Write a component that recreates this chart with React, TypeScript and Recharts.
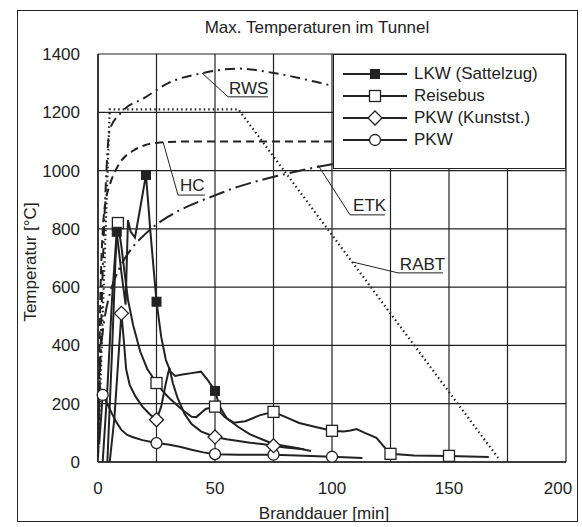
import React from 'react';
import {
  LineChart,
  Line,
  XAxis,
  YAxis,
  CartesianGrid,
  Legend,
  ReferenceLine,
  ReferenceDot,
} from 'recharts';

// Achsen
const xTicks = [0, 25, 50, 75, 100, 125, 150, 175, 200];
const yTicks = [0, 200, 400, 600, 800, 1000, 1200, 1400];

// Brandversuche: Zeit [min] / Temperatur [°C] / Zeitpunkte mit Symbol
const lkwT = [2, 4, 6, 8, 10, 11.8, 12.8, 14, 15.8, 18, 20.5, 22.5, 25, 27, 29, 31, 33, 36, 40, 44, 47, 50, 52, 55, 60, 65, 70, 75, 80, 85, 91];
const lkwV = [0, 250, 560, 790, 650, 540, 830, 790, 770, 870, 985, 780, 550, 430, 350, 310, 295, 300, 305, 310, 280, 244, 190, 150, 120, 95, 78, 62, 55, 48, 38];
const lkwMarks = [8, 20.5, 25, 50];

const busT = [4, 6, 7.5, 8.5, 10, 11.5, 12.8, 15, 18, 21, 25, 28, 31, 36, 40, 42, 46, 50, 54, 58, 63, 69, 75, 80, 86, 93, 100, 105, 108, 110.5, 114, 119, 123, 125, 135, 150, 167];
const busV = [0, 380, 700, 820, 740, 640, 557, 470, 380, 320, 271, 240, 215, 179, 155, 154, 182, 190, 155, 135, 140, 160, 172, 155, 134, 120, 107, 105, 108, 113, 100, 83, 45, 28, 22, 21, 17];
const busMarks = [8.5, 25, 50, 75, 100, 125, 150];

const pkwKT = [5, 7, 8.5, 10, 11, 12, 13.5, 16, 19, 22, 25, 27, 29, 30.5, 32, 34, 37, 40, 44, 50, 55, 60, 65, 70, 75, 80, 88];
const pkwKV = [0, 150, 330, 510, 420, 320, 265, 225, 190, 165, 145, 190, 270, 323, 270, 220, 165, 130, 105, 86, 78, 72, 66, 62, 56, 50, 44];
const pkwKMarks = [10, 25, 50, 75];

const pkwT = [0.5, 2, 4, 6, 8, 10, 12.5, 15, 19, 25, 30, 35, 40, 45, 50, 60, 75, 85, 100, 113];
const pkwV = [60, 230, 200, 165, 135, 110, 93, 85, 75, 65, 60, 52, 42, 33, 27, 25, 25, 22, 18, 14];
const pkwMarks = [2, 25, 50, 75, 100];

// Brandkurven
const etkT = [0, 1, 2, 3, 5, 7.5, 10, 15, 20, 25, 30, 40, 50, 60, 70, 80, 90, 100, 120];
const etkV = [20, 349, 445, 502, 576, 635, 678, 739, 781, 815, 842, 883, 915, 945, 968, 988, 1006, 1022, 1049];

const hcT = [0, 1, 2, 3, 5, 7.5, 10, 15, 20, 25, 30, 40, 60, 90, 120];
const hcV = [20, 560, 790, 880, 950, 1000, 1034, 1068, 1087, 1095, 1098, 1100, 1100, 1100, 1100];

const rwsT = [0, 3, 5, 10, 20, 30, 45, 60, 75, 90, 100, 120];
const rwsV = [20, 890, 1140, 1200, 1250, 1300, 1335, 1350, 1335, 1310, 1290, 1210];

const rabtT = [0, 5, 60, 171];
const rabtV = [20, 1210, 1210, 14];

// Legende (Reihenfolge wie im Original)
const legendOrder = ['LKW (Sattelzug)', 'Reisebus', 'PKW (Kunstst.)', 'PKW'];
const legendKinds: Record<string, string> = {
  'LKW (Sattelzug)': 'filled',
  Reisebus: 'square',
  'PKW (Kunstst.)': 'diamond',
  PKW: 'circle',
};

// Beschriftungen der Brandkurven: Text, Anker, Knick, Ende der Unterstreichung
const callouts = [
  { text: 'RWS', from: [44.4, 1335], knee: [55.6, 1253], end: 72.6, at: [56, 1263] },
  { text: 'HC', from: [27.8, 1098], knee: [34.2, 916], end: 45.7, at: [35, 930] },
  { text: 'ETK', from: [94, 1019], knee: [107.7, 848], end: 122.6, at: [109, 861] },
  { text: 'RABT', from: [109, 686], knee: [128.2, 649], end: 147.4, at: [129, 659] },
];

const pts = (ts: number[], vs: number[]) => ts.map((t, i) => ({ t, v: vs[i] }));

const INK = '#222';

const Marker = ({ kind, cx, cy }: { kind: string; cx: number; cy: number }) => {
  if (kind === 'filled')
    return <rect x={cx - 4.5} y={cy - 4.5} width={9} height={9} fill={INK} stroke={INK} />;
  if (kind === 'square')
    return <rect x={cx - 5.5} y={cy - 5.5} width={11} height={11} fill="#fff" stroke={INK} strokeWidth={1.3} />;
  if (kind === 'diamond')
    return (
      <path
        d={`M${cx},${cy - 7}L${cx + 7},${cy}L${cx},${cy + 7}L${cx - 7},${cy}Z`}
        fill="#fff"
        stroke={INK}
        strokeWidth={1.3}
      />
    );
  return <circle cx={cx} cy={cy} r={5.5} fill="#fff" stroke={INK} strokeWidth={1.3} />;
};

const dotAt = (marks: number[], kind: string) => (props: any) => {
  const { cx, cy, payload, index } = props;
  if (!marks.includes(payload.t)) return <g key={`${kind}-${index}`} />;
  return (
    <g key={`${kind}-${index}`}>
      <Marker kind={kind} cx={cx} cy={cy} />
    </g>
  );
};

const renderLegend = (props: any) => {
  const names = (props.payload || []).map((p: any) => p.value);
  const items = legendOrder.filter((n) => names.includes(n));
  return (
    <div
      style={{
        width: '100%',
        height: '100%',
        boxSizing: 'border-box',
        background: '#fff',
        border: `1.5px solid ${INK}`,
        padding: '8px 0 0 9px',
      }}
    >
      {items.map((name) => (
        <div key={name} style={{ display: 'flex', alignItems: 'center', height: 22 }}>
          <svg width={66} height={20}>
            <line x1={0} y1={10} x2={64} y2={10} stroke={INK} strokeWidth={2} />
            <Marker kind={legendKinds[name]} cx={32} cy={10} />
          </svg>
          <span style={{ marginLeft: 5, fontSize: 17, color: INK, lineHeight: '20px' }}>{name}</span>
        </div>
      ))}
    </div>
  );
};

const XTick = (props: any) => {
  const { x, y, payload } = props;
  const v = payload.value;
  if (v % 50 !== 0) return <g />;
  return (
    <text x={v === 200 ? x - 8 : x} y={y} dy="0.71em" textAnchor="middle" fill={INK} fontSize={17}>
      {v}
    </text>
  );
};

const yTitle = (props: any) => {
  const vb = props.viewBox || { y: 54, height: 408 };
  const x = 30;
  const y = vb.y + vb.height / 2 + 4;
  return (
    <text x={x} y={y} transform={`rotate(-90 ${x} ${y})`} textAnchor="middle" dominantBaseline="central" fill={INK} fontSize={17}>
      Temperatur [°C]
    </text>
  );
};

const xTitle = () => (
  <text x={324} y={519} textAnchor="middle" fill={INK} fontSize={17}>
    Branddauer [min]
  </text>
);

export default function App() {
  return (
    <div
      style={{
        position: 'absolute',
        left: 0,
        top: 0,
        width: 582,
        height: 527,
        background: '#fff',
        fontFamily: '"Liberation Sans", Arial, sans-serif',
        color: INK,
      }}
    >
      <div
        style={{
          position: 'absolute',
          left: 17,
          top: 10,
          width: 561,
          height: 512,
          boxSizing: 'border-box',
          border: `1.5px solid ${INK}`,
        }}
      />
      <div
        style={{
          position: 'absolute',
          left: 17,
          width: 600,
          top: 18,
          textAlign: 'center',
          fontSize: 17,
          lineHeight: '20px',
        }}
      >
        Max. Temperaturen im Tunnel
      </div>
      <div style={{ position: 'absolute', left: 0, top: 0 }}>
        <LineChart width={582} height={527} margin={{ top: 54, right: 16, bottom: 35, left: 38 }}>
          <CartesianGrid stroke={INK} strokeWidth={1.2} />
          <XAxis
            type="number"
            dataKey="t"
            domain={[0, 200]}
            ticks={xTicks}
            interval={0}
            tickLine={false}
            tickSize={6}
            tickMargin={14}
            tick={<XTick />}
            axisLine={{ stroke: INK, strokeWidth: 1.5 }}
            height={30}
            label={xTitle}
            allowDuplicatedCategory={false}
          />
          <YAxis
            type="number"
            dataKey="v"
            domain={[0, 1400]}
            ticks={yTicks}
            interval={0}
            tickLine={false}
            tickSize={6}
            tickMargin={12}
            tick={{ fill: INK, fontSize: 17 }}
            axisLine={{ stroke: INK, strokeWidth: 1.5 }}
            width={60}
            label={yTitle}
          />

          <Line data={pts(rabtT, rabtV)} dataKey="v" name="RABT" type="linear" stroke={INK} strokeWidth={2.2} strokeDasharray="1.5 3" dot={false} legendType="none" isAnimationActive={false} />
          <Line data={pts(hcT, hcV)} dataKey="v" name="HC" type="monotone" stroke={INK} strokeWidth={2} strokeDasharray="8 5" dot={false} legendType="none" isAnimationActive={false} />
          <Line data={pts(etkT, etkV)} dataKey="v" name="ETK" type="monotone" stroke={INK} strokeWidth={2} strokeDasharray="16 5 2 5" dot={false} legendType="none" isAnimationActive={false} />
          <Line data={pts(rwsT, rwsV)} dataKey="v" name="RWS" type="monotone" stroke={INK} strokeWidth={2} strokeDasharray="10 5 2 5" dot={false} legendType="none" isAnimationActive={false} />

          <Line data={pts(pkwT, pkwV)} dataKey="v" name="PKW" type="linear" stroke={INK} strokeWidth={2} dot={dotAt(pkwMarks, 'circle')} isAnimationActive={false} />
          <Line data={pts(pkwKT, pkwKV)} dataKey="v" name="PKW (Kunstst.)" type="linear" stroke={INK} strokeWidth={2} dot={dotAt(pkwKMarks, 'diamond')} isAnimationActive={false} />
          <Line data={pts(busT, busV)} dataKey="v" name="Reisebus" type="linear" stroke={INK} strokeWidth={2} dot={dotAt(busMarks, 'square')} isAnimationActive={false} />
          <Line data={pts(lkwT, lkwV)} dataKey="v" name="LKW (Sattelzug)" type="linear" stroke={INK} strokeWidth={2} dot={dotAt(lkwMarks, 'filled')} isAnimationActive={false} />

          {callouts.map((c) => (
            <ReferenceLine
              key={`l1-${c.text}`}
              segment={[
                { x: c.from[0], y: c.from[1] },
                { x: c.knee[0], y: c.knee[1] },
              ]}
              stroke={INK}
              strokeWidth={1}
            />
          ))}
          {callouts.map((c) => (
            <ReferenceLine
              key={`l2-${c.text}`}
              segment={[
                { x: c.knee[0], y: c.knee[1] },
                { x: c.end, y: c.knee[1] },
              ]}
              stroke={INK}
              strokeWidth={1}
            />
          ))}
          {callouts.map((c) => (
            <ReferenceDot
              key={`t-${c.text}`}
              x={c.at[0]}
              y={c.at[1]}
              r={0}
              shape={(p: any) => (
                <text x={p.cx} y={p.cy} fill={INK} fontSize={17}>
                  {c.text}
                </text>
              )}
            />
          ))}

          <Legend
            layout="vertical"
            align="center"
            verticalAlign="middle"
            wrapperStyle={{ left: 333, top: 54, width: 233, height: 115 }}
            content={renderLegend}
          />
        </LineChart>
      </div>
    </div>
  );
}
